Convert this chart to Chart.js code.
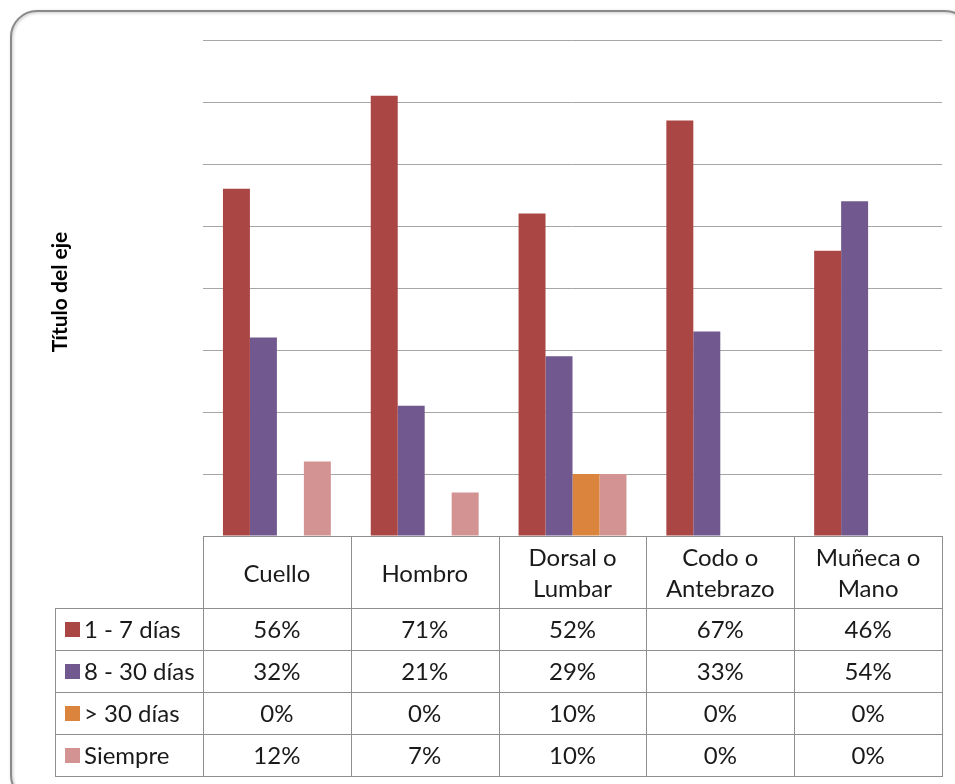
<!DOCTYPE html>
<html>
<head>
<meta charset="utf-8">
<script src="https://cdn.jsdelivr.net/npm/chart.js@4"></script>
<style>
  html, body { margin: 0; padding: 0; background: #ffffff; }
  #wrap { width: 955px; height: 784px; position: relative; }
</style>
</head>
<body>
<div id="wrap"><canvas id="c" width="955" height="784"></canvas></div>
<script>
// Body regions (each entry is one or two header lines)
const categories = [["Cuello"], ["Hombro"], ["Dorsal o", "Lumbar"], ["Codo o", "Antebrazo"], ["Muñeca o", "Mano"]];
// Pain duration groups
const seriesNames = ["1 - 7 días", "8 - 30 días", "> 30 días", "Siempre"];
// Percentages per region
const dias1a7  = [56, 71, 52, 67, 46];
const dias8a30 = [32, 21, 29, 33, 54];
const mas30    = [0, 0, 10, 0, 0];
const siempre  = [12, 7, 10, 0, 0];
// Value axis range
const yMin = 0, yMax = 80, yStep = 10;
const axisTitle = "Título del eje";

const seriesValues = [dias1a7, dias8a30, mas30, siempre];
const seriesColors = ["#AA4644", "#71588F", "#DB843D", "#D39393"];

const FONT = "Lato, 'Open Sans', 'Liberation Sans', sans-serif";
const LINE = "#8E8E8E";

const tablePlugin = {
  id: "dataTable",
  beforeDraw(chart) {
    const ctx = chart.ctx;
    ctx.save();
    ctx.fillStyle = "#ffffff";
    ctx.fillRect(0, 0, chart.width, chart.height);
    // rounded outer frame with soft shadow
    const x = 11, y = 11, w = 960, h = 790, r = 26;
    ctx.shadowColor = "rgba(0,0,0,0.25)";
    ctx.shadowBlur = 3;
    ctx.shadowOffsetX = 1;
    ctx.shadowOffsetY = 1;
    ctx.strokeStyle = "#8A8A8A";
    ctx.lineWidth = 2;
    ctx.beginPath();
    ctx.moveTo(x + r, y);
    ctx.lineTo(x + w - r, y);
    ctx.arcTo(x + w, y, x + w, y + r, r);
    ctx.lineTo(x + w, y + h - r);
    ctx.arcTo(x + w, y + h, x + w - r, y + h, r);
    ctx.lineTo(x + r, y + h);
    ctx.arcTo(x, y + h, x, y + h - r, r);
    ctx.lineTo(x, y + r);
    ctx.arcTo(x, y, x + r, y, r);
    ctx.closePath();
    ctx.stroke();
    ctx.restore();
  },
  afterDraw(chart) {
    const ctx = chart.ctx;
    const area = chart.chartArea;
    const xs = chart.scales.x;
    const n = categories.length;
    const colW = (area.right - area.left) / n;
    const headH = 72, rowH = 42, leftX = 55;
    const top = Math.round(area.bottom);
    const rowsTop = top + headH;
    const bottom = rowsTop + rowH * seriesNames.length;
    const L = Math.round(area.left), R = Math.round(area.right);

    ctx.save();
    ctx.strokeStyle = LINE;
    ctx.lineWidth = 1;
    ctx.beginPath();
    // horizontal rules
    ctx.moveTo(L, top + 0.5); ctx.lineTo(R + 1, top + 0.5);
    for (let i = 0; i <= seriesNames.length; i++) {
      const yy = rowsTop + i * rowH + 0.5;
      ctx.moveTo(leftX, yy); ctx.lineTo(R + 1, yy);
    }
    // vertical rules
    ctx.moveTo(leftX + 0.5, rowsTop); ctx.lineTo(leftX + 0.5, bottom + 1);
    for (let i = 0; i <= n; i++) {
      const xx = Math.round(area.left + i * colW) + 0.5;
      ctx.moveTo(xx, top); ctx.lineTo(xx, bottom + 1);
    }
    ctx.stroke();

    ctx.fillStyle = "#1a1a1a";
    ctx.font = "24px " + FONT;
    ctx.textAlign = "center";
    ctx.textBaseline = "middle";
    // header labels
    categories.forEach((lines, i) => {
      const cx = xs.getPixelForValue(i);
      const cy = top + headH / 2 + 2;
      const lh = 31;
      lines.forEach((t, k) => {
        ctx.fillText(t, cx, cy + (k - (lines.length - 1) / 2) * lh);
      });
    });
    // rows: legend key, name, values
    seriesNames.forEach((name, s) => {
      const cy = rowsTop + s * rowH + rowH / 2 + 1;
      ctx.fillStyle = seriesColors[s];
      ctx.fillRect(65, Math.round(cy - 8), 15, 15);
      ctx.fillStyle = "#1a1a1a";
      ctx.textAlign = "left";
      ctx.fillText(name, 84, cy);
      ctx.textAlign = "center";
      seriesValues[s].forEach((v, i) => {
        ctx.fillText(v + "%", xs.getPixelForValue(i), cy);
      });
    });

    // value axis title
    ctx.save();
    ctx.translate(60, 292);
    ctx.rotate(-Math.PI / 2);
    ctx.font = "bold 21px " + FONT;
    ctx.fillStyle = "#000000";
    ctx.textAlign = "center";
    ctx.textBaseline = "middle";
    ctx.fillText(axisTitle, 0, 0);
    ctx.restore();
    ctx.restore();
  }
};

new Chart(document.getElementById("c"), {
  type: "bar",
  data: {
    labels: categories.map(c => c.join(" ")),
    datasets: seriesNames.map((name, s) => ({
      label: name,
      data: seriesValues[s],
      backgroundColor: seriesColors[s],
      borderWidth: 0,
      categoryPercentage: 0.73,
      barPercentage: 1.0
    }))
  },
  options: {
    responsive: false,
    devicePixelRatio: 1,
    animation: false,
    layout: { padding: { left: 203, right: 13, top: 40, bottom: 248 } },
    plugins: {
      legend: { display: false },
      tooltip: { enabled: false },
      title: { display: false }
    },
    scales: {
      x: { display: false },
      y: {
        min: yMin, max: yMax,
        ticks: { display: false, stepSize: yStep },
        grid: { color: "#A6A6A6", lineWidth: 1, drawTicks: false },
        border: { display: false }
      }
    }
  },
  plugins: [tablePlugin]
});
</script>
</body>
</html>
